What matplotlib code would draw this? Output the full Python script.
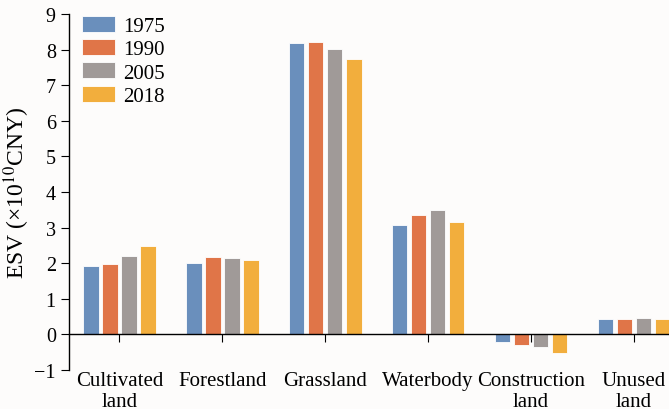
import matplotlib
matplotlib.use("Agg")
import matplotlib.pyplot as plt
import numpy as np

categories = ["Cultivated\nland", "Forestland", "Grassland", "Waterbody", "Construction\nland", "Unused\nland"]
years = ["1975", "1990", "2005", "2018"]
v1975 = [1.91, 2.00, 8.18, 3.06, -0.20, 0.42]
v1990 = [1.98, 2.17, 8.22, 3.34, -0.30, 0.42]
v2005 = [2.20, 2.14, 8.02, 3.49, -0.36, 0.45]
v2018 = [2.47, 2.10, 7.73, 3.15, -0.51, 0.42]
series = [v1975, v1990, v2005, v2018]
colors = ["#6a8fbc", "#e07548", "#a09a98", "#f2ae3d"]

plt.rcParams['font.family'] = ['Liberation Serif', 'DejaVu Serif']
plt.rcParams['mathtext.fontset'] = 'stix'

fig = plt.figure(figsize=(6.69, 4.10), dpi=100)
fig.patch.set_facecolor('#fdfcfb')
ax = fig.add_axes([69/669, 39/410, 1 - 69/669, (371-15)/410])
ax.set_facecolor('none')

x = np.arange(len(categories))
step = 0.185
width = 0.15
for i, (vals, c, yr) in enumerate(zip(series, colors, years)):
    ax.bar(x + (i - 1.5) * step, vals, width=width, color=c, edgecolor='white',
           linewidth=0.6, label=yr)

ax.set_xlim(-0.49, 5.34)
ax.set_ylim(-1, 9)
ax.set_yticks(range(-1, 10))
ax.set_xticks(x)
ax.set_xticklabels(categories, linespacing=0.7)
ax.spines['top'].set_visible(False)
ax.spines['right'].set_visible(False)
ax.spines['bottom'].set_position(('data', 0))
ax.tick_params(axis='y', direction='out', length=6, labelsize=14.5, pad=3.5)
ax.tick_params(axis='x', direction='out', length=6, pad=20, labelsize=15)
for s in ['left', 'bottom']:
    ax.spines[s].set_linewidth(1.0)
ax.set_ylabel("ESV (×10$^{10}$CNY)", fontsize=17, labelpad=2)

ax.legend(loc='upper left', bbox_to_anchor=(0.0, 1.03), frameon=False, fontsize=15,
          handlelength=1.6, handleheight=0.8, labelspacing=0.15, handletextpad=0.4,
          borderaxespad=0.2)

fig.savefig("out.png", dpi=100, facecolor=fig.get_facecolor())
